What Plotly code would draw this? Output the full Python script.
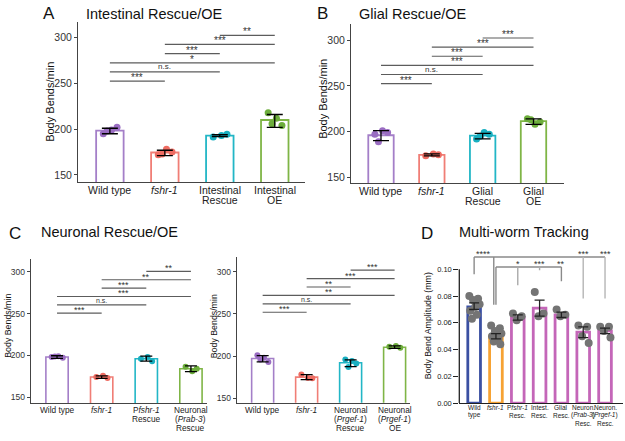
import plotly.graph_objects as go

FONT = "Arial, Liberation Sans, sans-serif"
W, H = 625, 441

# ---------------- data ----------------
# Panel A: Intestinal Rescue/OE
a_labels = ["Wild type", "<i>fshr-1</i>", "Intestinal<br>Rescue", "Intestinal<br>OE"]
a_means = [198.5, 174.5, 193.0, 210.0]
a_low = [195, 171, 192, 202]
a_high = [201, 177, 194, 216]
a_points = [[195, 199, 202, 198], [172, 178, 175, 173], [191.5, 193, 194.5], [218, 212, 204, 206]]
a_comps = [(0, 1, "***"), (0, 2, "n.s."), (0, 3, "*"), (1, 2, "***"), (1, 3, "***"), (2, 3, "**")]

# Panel B: Glial Rescue/OE
b_labels = ["Wild type", "<i>fshr-1</i>", "Glial<br>Rescue", "Glial<br>OE"]
b_means = [196.0, 174.5, 195.5, 211.5]
b_low = [190, 173.5, 192, 208]
b_high = [201, 175.5, 198, 214]
b_points = [[197, 201, 199, 189], [173.5, 175.5, 174.5], [192, 199, 197, 195], [214, 208, 210.5, 213]]
b_comps = [(0, 1, "***"), (0, 2, "n.s."), (0, 3, "***"), (1, 2, "***"), (1, 3, "***"), (2, 3, "***")]

# Panel C (left): Neuronal rescue with Prab-3
c1_labels = ["Wild type", "<i>fshr-1</i>", "P<i>fshr-1</i><br>Rescue", "Neuronal<br>(<i>Prab-3</i>)<br>Rescue"]
c1_means = [198.0, 174.0, 196.0, 184.0]
c1_low = [196.5, 172.5, 193, 180.5]
c1_high = [199.5, 175.5, 199, 187.5]
c1_points = [[198, 199, 197, 198.5], [174, 175.5, 173], [196, 198, 193], [186.5, 181, 184]]
c1_comps = [(0, 1, "***"), (0, 2, "n.s."), (0, 3, "***"), (1, 2, "***"), (1, 3, "**"), (2, 3, "**")]

# Panel C (right): Neuronal rescue / OE with Prgef-1
c2_labels = ["Wild type", "<i>fshr-1</i>", "Neuronal<br>(<i>Prgef-1</i>)<br>Rescue", "Neuronal<br>(<i>Prgef-1</i>)<br>OE"]
c2_means = [197.0, 175.0, 192.0, 210.5]
c2_low = [193, 172, 187.5, 209]
c2_high = [200.5, 178, 195.5, 212]
c2_points = [[201, 198, 193, 196], [178, 174, 173.5], [196, 194, 191, 187], [211, 212, 210]]
c2_comps = [(0, 1, "***"), (0, 2, "n.s."), (0, 3, "**"), (1, 2, "**"), (1, 3, "***"), (2, 3, "***")]

# Panel D: Multi-worm tracking
d_labels = ["Wild<br>type", "<i>fshr-1</i>", "P<i>fshr-1</i><br>Resc.", "Intest.<br>Resc.",
            "Glial<br>Resc.", "Neuron.<br>(<i>Prab-3</i>)<br>Resc.", "Neuron.<br>(<i>Prgef-1</i>)<br>Resc."]
d_means = [0.072, 0.050, 0.064, 0.071, 0.066, 0.053, 0.054]
d_low = [0.070, 0.048, 0.062, 0.065, 0.064, 0.049, 0.052]
d_high = [0.075, 0.052, 0.066, 0.077, 0.068, 0.057, 0.056]
d_points = [
    [0.080, 0.078, 0.077, 0.074, 0.072, 0.069, 0.066, 0.063],
    [0.058, 0.056, 0.054, 0.052, 0.051, 0.050, 0.048, 0.046, 0.044],
    [0.067, 0.065, 0.062],
    [0.083, 0.067, 0.065],
    [0.070, 0.066, 0.065],
    [0.058, 0.057, 0.050, 0.045],
    [0.057, 0.057, 0.054, 0.049],
]

# ---------------- style ----------------
BAR_COLORS = ["#A47FC8", "#F07E76", "#22B6C6", "#7FB546"]
DOT_COLORS = ["#9A6DC2", "#EE6C62", "#19AFC0", "#6DAE3C"]
D_COLORS = ["#3B50A2", "#F6A233", "#C466B8", "#C466B8", "#C466B8", "#C466B8", "#C466B8"]
JITTER = [-0.12, 0.03, 0.13, -0.05, 0.08]
D_JITTER = [-0.22, 0.18, -0.05, 0.25, 0.05, -0.18, 0.12, -0.1, 0.2]

fig = go.Figure()
shapes = []
annotations = []


def px2x(p):
    return p / W


def px2y(p):
    return 1 - p / H


def axis_names(k):
    return ("x" if k == 1 else f"x{k}"), ("y" if k == 1 else f"y{k}")


def add_xlabels(k, labels, first_y, spacing, size):
    xa, _ = axis_names(k)
    for i, lab in enumerate(labels):
        for n, line in enumerate(lab.split("<br>")):
            annotations.append(dict(xref=xa, yref="paper", x=i, y=px2y(first_y + n * spacing),
                                    text=line, showarrow=False, xanchor="center", yanchor="middle",
                                    font=dict(family=FONT, size=size, color="#222")))


def add_panel(k, labels, means, low, high, points, comps, level0, step,
              bw, line_w, dot_size, err_w, sig_font):
    xa, ya = axis_names(k)
    pos = list(range(len(labels)))
    fig.add_trace(go.Bar(x=pos, y=means, width=bw, xaxis=xa, yaxis=ya,
                         marker=dict(color="white", line=dict(color=BAR_COLORS, width=line_w)),
                         showlegend=False, hoverinfo="skip"))
    for i, pts in enumerate(points):
        xs = [i + JITTER[j % len(JITTER)] for j in range(len(pts))]
        fig.add_trace(go.Scatter(x=xs, y=pts, mode="markers", xaxis=xa, yaxis=ya,
                                 marker=dict(color=DOT_COLORS[i], size=dot_size),
                                 showlegend=False, hoverinfo="skip"))
    fig.add_trace(go.Scatter(x=pos, y=means, mode="markers", xaxis=xa, yaxis=ya,
                             marker=dict(color="rgba(0,0,0,0)", size=1),
                             error_y=dict(type="data", symmetric=False,
                                          array=[h - m for h, m in zip(high, means)],
                                          arrayminus=[m - l for l, m in zip(low, means)],
                                          color="black", thickness=1.3, width=err_w),
                             showlegend=False, hoverinfo="skip"))
    for n, (i, j, lab) in enumerate(comps):
        lvl = level0 + n * step
        shapes.append(dict(type="line", xref=xa, yref=ya, x0=i, x1=j, y0=lvl, y1=lvl,
                           line=dict(color="#5c5c5c", width=1.2)))
        annotations.append(dict(xref=xa, yref=ya, x=(i + j) / 2, y=lvl, text=lab,
                                showarrow=False, yanchor="bottom",
                                yshift=(-4 if lab.startswith("*") else -1),
                                font=dict(family=FONT, size=(sig_font if lab.startswith("*") else sig_font - 2),
                                          color="#333")))


add_panel(1, a_labels, a_means, a_low, a_high, a_points, a_comps, 252.5, 10, 0.5, 1.8, 7, 8, 10)
add_panel(2, b_labels, b_means, b_low, b_high, b_points, b_comps, 252.5, 10, 0.5, 1.8, 7, 8, 10)
add_panel(3, c1_labels, c1_means, c1_low, c1_high, c1_points, c1_comps, 250.5, 10, 0.5, 1.6, 6, 6, 9)
add_panel(4, c2_labels, c2_means, c2_low, c2_high, c2_points, c2_comps, 252, 10, 0.5, 1.6, 6, 6, 9)

add_xlabels(1, a_labels, 191.7, 10.6, 10.5)
add_xlabels(2, b_labels, 192.7, 10.6, 10.5)
add_xlabels(3, c1_labels, 414.3, 9.5, 8.3)
add_xlabels(4, c2_labels, 414.3, 9.5, 8.3)
add_xlabels(5, d_labels, 411.7, 8.3, 6.5)

# Panel D
dpos = list(range(len(d_labels)))
fig.add_trace(go.Bar(x=dpos, y=d_means, width=0.58, xaxis="x5", yaxis="y5",
                     marker=dict(color="white", line=dict(color=D_COLORS, width=2.8)),
                     showlegend=False, hoverinfo="skip"))
for i, pts in enumerate(d_points):
    xs = [i + D_JITTER[j % len(D_JITTER)] for j in range(len(pts))]
    fig.add_trace(go.Scatter(x=xs, y=pts, mode="markers", xaxis="x5", yaxis="y5",
                             marker=dict(color="#747474", size=8),
                             showlegend=False, hoverinfo="skip"))
fig.add_trace(go.Scatter(x=dpos, y=d_means, mode="markers", xaxis="x5", yaxis="y5",
                         marker=dict(color="rgba(0,0,0,0)", size=1),
                         error_y=dict(type="data", symmetric=False,
                                      array=[h - m for h, m in zip(d_high, d_means)],
                                      arrayminus=[m - l for l, m in zip(d_low, d_means)],
                                      color="#222", thickness=1.3, width=5),
                         showlegend=False, hoverinfo="skip"))


# D brackets (layout)
def dline(x0, x1, y0, y1, color="#8a8a8a"):
    shapes.append(dict(type="line", xref="x5", yref="y5", x0=x0, x1=x1, y0=y0, y1=y1,
                       line=dict(color=color, width=1.4)))


top, mid = 0.1092, 0.1018
dline(0, 6, top, top)
dline(0, 0, top, 0.0964)
dline(0.9, 0.9, top, 0.0735)
dline(5, 5, top, 0.0783, "#b5b5b5")
dline(6, 6, top, 0.0783, "#b5b5b5")
dline(1.0, 4, mid, mid)
dline(1.0, 1.0, mid, 0.0735)
dline(2, 2, mid, 0.0882, "#aaaaaa")
dline(3, 3, mid, 0.0993, "#aaaaaa")
dline(4, 4, mid, 0.0912)
for xx, yy, lab in [(0.45, top, "****"), (5, top, "***"), (6, top, "***"),
                    (2, mid, "*"), (3, mid, "***"), (4, mid, "**")]:
    annotations.append(dict(xref="x5", yref="y5", x=xx, y=yy, text=lab, showarrow=False,
                            yanchor="bottom", yshift=-4, font=dict(family=FONT, size=9, color="#333")))
# D y-axis line only from 0 to 0.10
shapes.append(dict(type="line", xref="x5 domain", yref="y5", x0=0, x1=0, y0=0, y1=0.1,
                   line=dict(color="#222", width=1.3)))


# ---------------- axes ----------------
def yax(dom, rng, size, tickvals):
    return dict(domain=dom, range=rng, tickvals=tickvals, showline=True, linecolor="#444",
                linewidth=1, ticks="outside", ticklen=3, tickcolor="#444", showgrid=False,
                zeroline=False, tickfont=dict(family=FONT, size=size, color="#333"))


def xax(dom, rng, n, anchor):
    return dict(domain=dom, range=rng, tickvals=list(range(n)), showticklabels=False,
                showline=True, linecolor="#444", linewidth=1, ticks="", showgrid=False,
                zeroline=False, anchor=anchor)


ticks_main = [150, 200, 250, 300]
layout = dict(
    width=W, height=H, margin=dict(l=0, r=0, t=0, b=0),
    paper_bgcolor="white", plot_bgcolor="white", showlegend=False,
    xaxis=xax([px2x(78), px2x(305)], [-0.58, 3.55], len(a_labels), "y"),
    yaxis=yax([px2y(184), px2y(22)], [142.4, 317.3], 10.5, ticks_main) | dict(anchor="x"),
    xaxis2=xax([px2x(351), px2x(564)], [-0.59, 3.6], len(b_labels), "y2"),
    yaxis2=yax([px2y(185), px2y(24)], [143.8, 318.1], 10.5, ticks_main) | dict(anchor="x2"),
    xaxis3=xax([px2x(30.7), px2x(207)], [-0.59, 3.36], len(c1_labels), "y3"),
    yaxis3=yax([px2y(408), px2y(261.7)], [142.5, 315.7], 8.5, ticks_main) | dict(anchor="x3"),
    xaxis4=xax([px2x(236.7), px2x(410)], [-0.59, 3.35], len(c2_labels), "y4"),
    yaxis4=yax([px2y(407.3), px2y(260)], [144.6, 317.6], 8.5, ticks_main) | dict(anchor="x4"),
    xaxis5=xax([px2x(459.3), px2x(622.7)], [-0.68, 6.81], len(d_labels), "y5") | dict(linewidth=1.3, linecolor="#222"),
    yaxis5=dict(domain=[px2y(407.7), px2y(250)], range=[0, 0.1166],
                tickvals=[0, 0.02, 0.04, 0.06, 0.08, 0.10], tickformat=".2f",
                showline=False, ticks="outside", ticklen=5, tickcolor="#222", tickwidth=1.2,
                showgrid=False, zeroline=False, anchor="x5",
                tickfont=dict(family=FONT, size=7.5, color="#222")),
)


# titles and axis titles
def ptext(x, y, text, size, xanchor="center", angle=0):
    annotations.append(dict(xref="paper", yref="paper", x=px2x(x), y=px2y(y), text=text,
                            showarrow=False, xanchor=xanchor, yanchor="middle", textangle=angle,
                            font=dict(family=FONT, size=size, color="#111")))


ptext(49, 14, "A", 17)
ptext(84, 14, "Intestinal Rescue/OE", 14.5, "left")
ptext(322, 14, "B", 17)
ptext(357, 14, "Glial Rescue/OE", 14.5, "left")
ptext(15, 236, "C", 17)
ptext(39, 235, "Neuronal Rescue/OE", 14.5, "left")
ptext(427, 236, "D", 17)
ptext(457, 235, "Multi-worm Tracking", 14.5, "left")

ptext(50, 103, "Body Bends/min", 11, angle=-90)
ptext(323, 100, "Body Bends/min", 11, angle=-90)
ptext(8.5, 330, "Body Bends/min", 8.8, angle=-90)
ptext(214, 330, "Body Bends/min", 8.8, angle=-90)
ptext(428, 330, "Body Bend Amplitude (mm)", 8.8, angle=-90)

layout["shapes"] = shapes
layout["annotations"] = annotations
fig.update_layout(**layout)
fig.write_html("out.html", config={"displayModeBar": False},
               post_script="document.body.style.margin='0';")
